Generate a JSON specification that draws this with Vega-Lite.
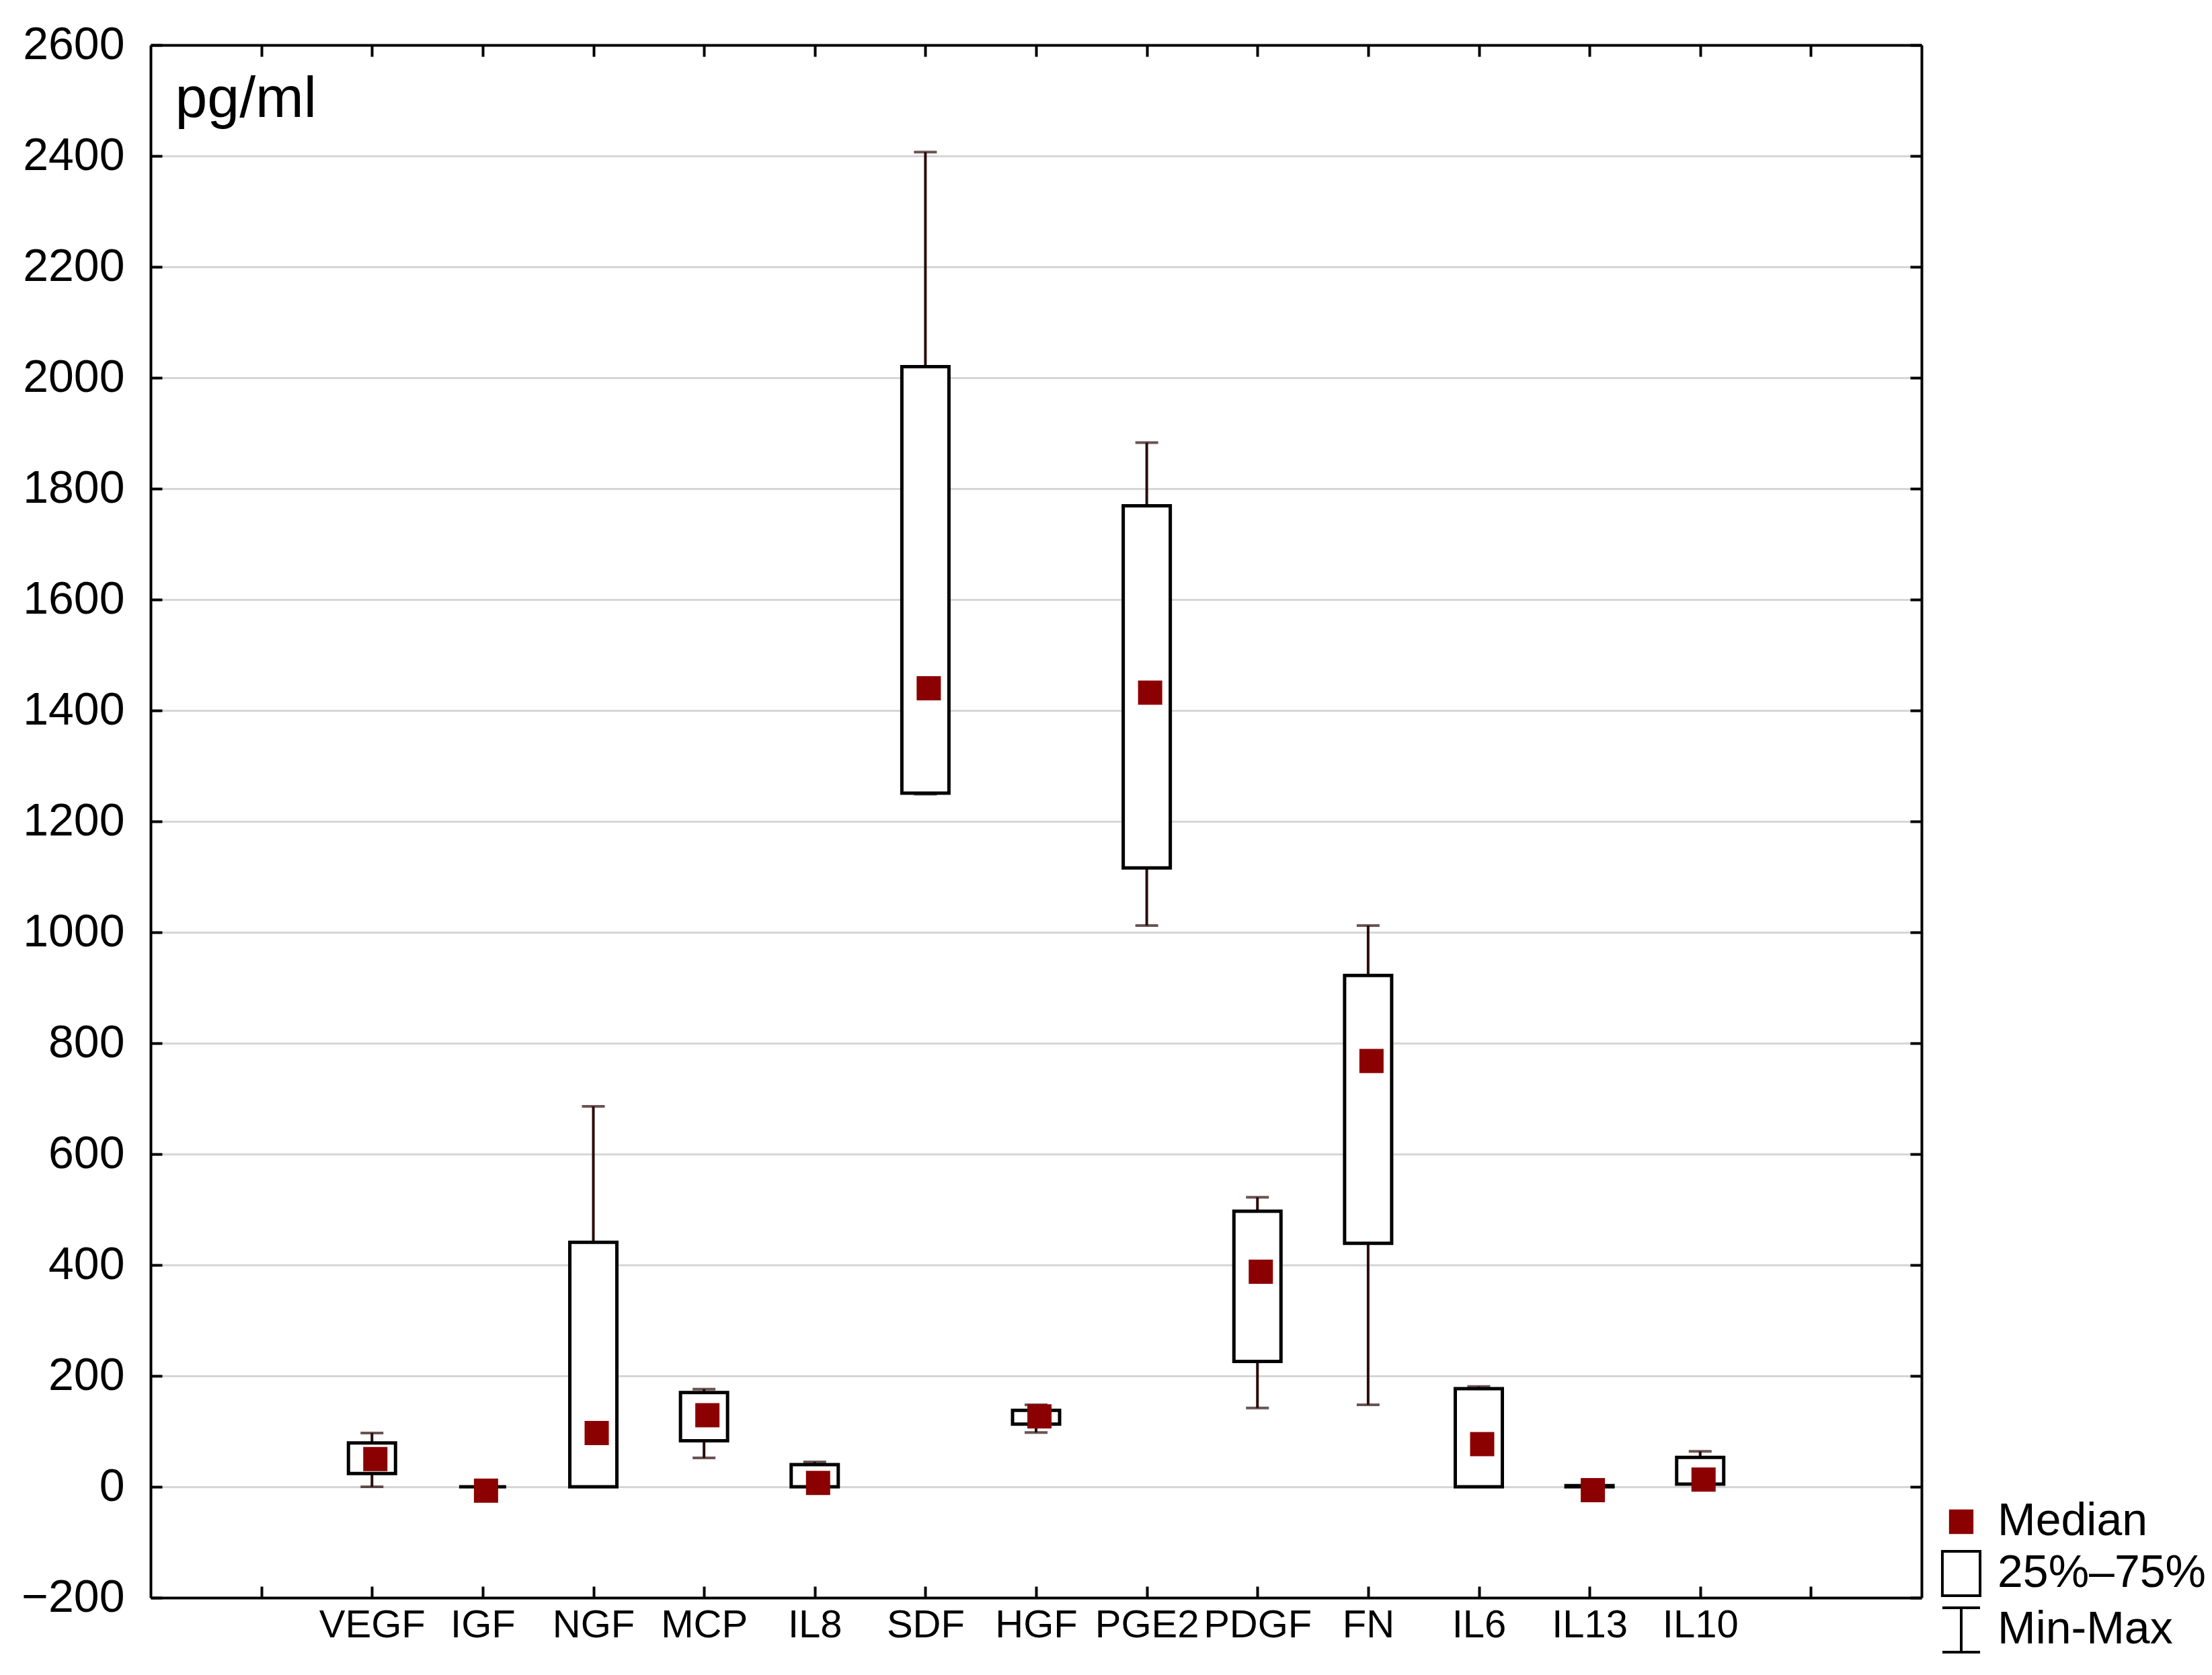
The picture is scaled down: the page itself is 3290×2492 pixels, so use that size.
{
  "$schema": "https://vega.github.io/schema/vega-lite/v6.json",
  "width": 2634,
  "height": 2310,
  "autosize": {"type": "none"},
  "padding": {"left": 224, "top": 67, "right": 432, "bottom": 115},
  "background": "white",
  "config": {"font": "Liberation Sans", "view": {"stroke": null}},
  "datasets": {
    "stats": [
      {"marker": "VEGF", "min": 0, "q1": 24, "median": 50, "q3": 79, "max": 97},
      {"marker": "IGF", "min": 0, "q1": 0, "median": -7, "q3": 0, "max": 0},
      {"marker": "NGF", "min": 0, "q1": 0, "median": 97, "q3": 441, "max": 686},
      {"marker": "MCP", "min": 52, "q1": 83, "median": 129, "q3": 170, "max": 176},
      {"marker": "IL8", "min": 0, "q1": 0, "median": 7, "q3": 40, "max": 45},
      {"marker": "SDF", "min": 1249, "q1": 1251, "median": 1440, "q3": 2020, "max": 2407},
      {"marker": "HGF", "min": 98, "q1": 113, "median": 127, "q3": 138, "max": 148},
      {"marker": "PGE2", "min": 1012, "q1": 1116, "median": 1432, "q3": 1769, "max": 1883},
      {"marker": "PDGF", "min": 142, "q1": 226, "median": 388, "q3": 497, "max": 522},
      {"marker": "FN", "min": 148, "q1": 439, "median": 768, "q3": 922, "max": 1012},
      {"marker": "IL6", "min": 0, "q1": 0, "median": 77, "q3": 177, "max": 181},
      {"marker": "IL13", "min": 0, "q1": 0, "median": -6, "q3": 2, "max": 2},
      {"marker": "IL10", "min": 5, "q1": 5, "median": 13, "q3": 53, "max": 64}
    ],
    "legend": [
      {"item": "Median"},
      {"item": "25%–75%"},
      {"item": "Min-Max"}
    ]
  },
  "resolve": {"axis": {"x": "independent", "y": "independent"}},
  "layer": [
    {
      "data": {"name": "stats"},
      "mark": {"type": "rule", "color": "#2b0b0b", "strokeWidth": 4},
      "encoding": {
        "x": {
          "field": "marker", "type": "nominal",
          "scale": {"type": "point", "padding": 1, "domain": ["_L", "VEGF", "IGF", "NGF", "MCP", "IL8", "SDF", "HGF", "PGE2", "PDGF", "FN", "IL6", "IL13", "IL10", "_R"]},
          "axis": {
            "orient": "bottom", "title": null, "grid": false,
            "labelExpr": "indexof(datum.value, '_') == 0 ? '' : datum.value",
            "labelFont": "Liberation Sans", "labelFontSize": 58, "labelColor": "black",
            "labelAngle": 0, "labelPadding": 29,
            "tickSize": -17, "tickWidth": 4, "tickColor": "black",
            "domainColor": "black", "domainWidth": 4
          }
        },
        "y": {
          "field": "min", "type": "quantitative",
          "scale": {"domain": [-200, 2600], "nice": false, "zero": false},
          "axis": {
            "orient": "left",
            "values": [-200, 0, 200, 400, 600, 800, 1000, 1200, 1400, 1600, 1800, 2000, 2200, 2400, 2600],
            "format": "d",
            "labelFontSize": 68, "labelColor": "black", "labelPadding": 56,
            "tickSize": -17, "tickWidth": 4, "tickColor": "black",
            "domainColor": "black", "domainWidth": 4,
            "grid": true, "gridColor": "#d6d6d6", "gridWidth": 3,
            "title": "pg/ml", "titleAngle": 0, "titleX": 36, "titleY": 106,
            "titleAlign": "left", "titleBaseline": "alphabetic",
            "titleFontSize": 86, "titleFontWeight": "normal", "titleColor": "black"
          }
        },
        "y2": {"field": "max"}
      }
    },
    {
      "data": {"name": "stats"},
      "mark": {"type": "tick", "color": "#2b0b0b", "thickness": 4, "size": 34},
      "encoding": {
        "x": {
          "field": "marker", "type": "nominal",
          "axis": {
            "orient": "top", "title": null, "labels": false, "grid": false,
            "tickSize": -17, "tickWidth": 4, "tickColor": "black",
            "domainColor": "black", "domainWidth": 4
          }
        },
        "y": {
          "field": "max", "type": "quantitative",
          "axis": {
            "orient": "right", "title": null, "labels": false, "grid": false,
            "values": [-200, 0, 200, 400, 600, 800, 1000, 1200, 1400, 1600, 1800, 2000, 2200, 2400, 2600],
            "tickSize": -17, "tickWidth": 4, "tickColor": "black",
            "domainColor": "black", "domainWidth": 4
          }
        }
      }
    },
    {
      "data": {"name": "stats"},
      "mark": {"type": "tick", "color": "#2b0b0b", "thickness": 4, "size": 34},
      "encoding": {
        "x": {"field": "marker", "type": "nominal", "axis": null},
        "y": {"field": "min", "type": "quantitative", "axis": null}
      }
    },
    {
      "data": {"name": "stats"},
      "mark": {"type": "bar", "fill": "white", "stroke": "black", "strokeWidth": 5, "width": 70},
      "encoding": {
        "x": {"field": "marker", "type": "nominal", "axis": null},
        "y": {"field": "q1", "type": "quantitative", "axis": null},
        "y2": {"field": "q3"}
      }
    },
    {
      "data": {"name": "stats"},
      "mark": {"type": "point", "shape": "square", "filled": true, "color": "#8b0000", "size": 1296, "opacity": 1, "xOffset": 5},
      "encoding": {
        "x": {"field": "marker", "type": "nominal", "axis": null},
        "y": {"field": "median", "type": "quantitative", "axis": null}
      }
    },
    {
      "data": {"name": "legend"},
      "mark": {"type": "point", "opacity": 0, "filled": false},
      "encoding": {
        "shape": {
          "field": "item", "type": "nominal",
          "scale": {
            "domain": ["Median", "25%–75%", "Min-Max"],
            "range": ["M-0.55,-0.55H0.55V0.55H-0.55Z", "M-0.85,-1H0.85V1H-0.85Z", "M-0.85,-1H0.85M0,-1V1M-0.85,1H0.85"]
          },
          "legend": {
            "title": null, "orient": "none", "legendX": 2658, "legendY": 2162,
            "padding": 0, "symbolSize": 4356, "symbolStrokeWidth": 4, "symbolOpacity": 1,
            "labelFont": "Liberation Sans", "labelFontSize": 68, "labelColor": "black",
            "labelOffset": 19, "labelLimit": 1000, "rowPadding": 2,
            "encode": {"symbols": {"update": {"opacity": {"value": 1}}}}
          }
        },
        "fill": {
          "field": "item", "type": "nominal",
          "scale": {"domain": ["Median", "25%–75%", "Min-Max"], "range": ["#8b0000", "#ffffff", "transparent"]}
        },
        "stroke": {
          "field": "item", "type": "nominal",
          "scale": {"domain": ["Median", "25%–75%", "Min-Max"], "range": ["transparent", "#000000", "#000000"]}
        }
      }
    }
  ]
}
